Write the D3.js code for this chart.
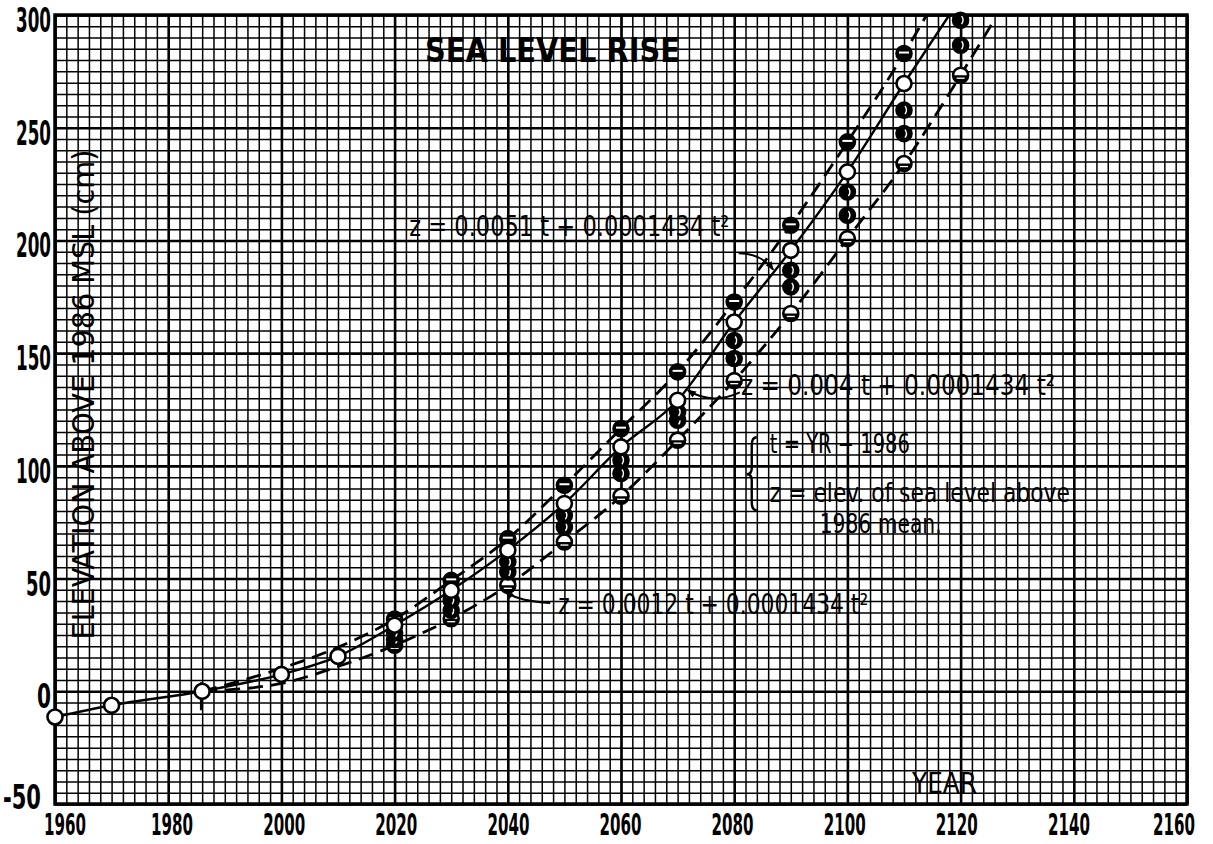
<!DOCTYPE html>
<html>
<head>
<meta charset="utf-8">
<script src="https://cdn.jsdelivr.net/npm/d3@7"></script>
<style>
body { margin: 0; background: #fff; }
svg text { font-family: "DejaVu Sans Condensed", "DejaVu Sans", sans-serif; fill: #000; }
</style>
</head>
<body>
<svg id="chart" width="1213" height="844"></svg>
<script>
// open circles, sitting on the solid curve
var openYears = [1960, 1970, 1986, 2000, 2010, 2020, 2030, 2040, 2050, 2060, 2070, 2080, 2090, 2100, 2110];
var openVals  = [-11.4, -6.2, 0, 7.5, 15.5, 29.3, 44.8, 62.6, 83.3, 108.4, 129.1, 163.8, 195.6, 230.4, 269.6];

// the column of points drawn every 10 years
var clusterYears = [2020, 2030, 2040, 2050, 2060, 2070, 2080, 2090, 2100, 2110, 2120];
var upperVals   = [32, 49.2, 67.7, 91.4, 116.5, 141.7, 172.7, 206.7, 243.7, 282.9, null];
var midHighVals = [26, 40.4, 57.4, 78.1, 102.5, 123.9, 155.6, 186.7, 221.5, 257.8, 297.7];
var midLowVals  = [23, 35.9, 52.9, 72.9, 96.6, 120.2, 147.6, 179.4, 211.2, 247.4, 286.6];
var lowerVals   = [20.4, 32.2, 47.0, 66.2, 86.5, 111.4, 137.8, 167.6, 200.8, 234.1, 273.3];

// hand drawn curves (last point = where they run off the top of the paper)
var solidYears = [1960, 1970, 1986, 2000, 2010, 2020, 2030, 2040, 2050, 2060, 2070, 2080, 2090, 2100, 2110, 2118];
var solidVals  = [-11.4, -6.2, 0, 7.5, 15.5, 29.3, 44.8, 62.6, 83.3, 108.4, 129.1, 163.8, 195.6, 230.4, 269.6, 300];
var upperLineYears = [1986, 2000, 2010, 2020, 2030, 2040, 2050, 2060, 2070, 2080, 2090, 2100, 2110, 2114];
var upperLineVals  = [0, 10.2, 19.5, 32, 49.2, 67.7, 91.4, 116.5, 141.7, 172.7, 206.7, 243.7, 282.9, 300];
var lowerLineYears = [1986, 2000, 2010, 2020, 2030, 2040, 2050, 2060, 2070, 2080, 2090, 2100, 2110, 2120, 2126];
var lowerLineVals  = [0, 3.5, 11, 20.4, 32.2, 47.0, 66.2, 86.5, 111.4, 137.8, 167.6, 200.8, 234.1, 273.3, 298];

var xTicks = [1960, 1980, 2000, 2020, 2040, 2060, 2080, 2100, 2120, 2140, 2160];
var yTicks = [-50, 0, 50, 100, 150, 200, 250, 300];

var svg = d3.select("#chart");
var x = d3.scaleLinear().domain([1960, 2160]).range([55, 1187]);
var y = d3.scaleLinear().domain([-50, 300]).range([804, 15]);
var W = x(2160) - x(1960), H = y(-50) - y(300);

svg.append("rect").attr("width", 1213).attr("height", 844).attr("fill", "#fff");

// graph paper: minor lines every 2 yrs / 5 cm, heavy every 20 yrs / 50 cm
function grid(vals, sw, cls) {
  svg.append("g").attr("class", cls + "x")
    .attr("transform", "translate(0," + y(-50) + ")")
    .call(d3.axisBottom(x).tickValues(vals.x).tickSize(-H).tickFormat(""))
    .call(g => g.select(".domain").remove())
    .selectAll("line").attr("stroke", "#000").attr("stroke-width", sw);
  svg.append("g").attr("class", cls + "y")
    .attr("transform", "translate(" + x(1960) + ",0)")
    .call(d3.axisLeft(y).tickValues(vals.y).tickSize(-W).tickFormat(""))
    .call(g => g.select(".domain").remove())
    .selectAll("line").attr("stroke", "#000").attr("stroke-width", sw);
}
grid({x: d3.range(1960, 2161, 2), y: d3.range(-50, 301, 5)}, 1.5, "minor");
grid({x: xTicks, y: yTicks}, 2.6, "major");

svg.append("rect")
  .attr("x", x(1960)).attr("y", y(300)).attr("width", W).attr("height", H)
  .attr("fill", "none").attr("stroke", "#000").attr("stroke-width", 3.5);

// tick labels (hand lettered, narrow; drift a little left towards the right end)
svg.append("g").selectAll("text").data(xTicks).enter().append("text")
  .attr("text-anchor", "middle")
  .style("font-size", "31px").style("font-weight", "bold")
  .text(d => d)
  .attr("transform", function(d) {
    var cx = d === 2160 ? 1174 : x(d) + (d === 1960 ? 10 : 5 - 11 * (d - 1960) / 200);
    var k = 42 / this.getComputedTextLength();
    return "translate(" + cx + ",835) scale(" + k + ",1)";
  });

svg.append("g").selectAll("text").data(yTicks).enter().append("text")
  .attr("text-anchor", "end")
  .style("font-size", "33px").style("font-weight", "bold")
  .text(d => d)
  .attr("transform", function(d) {
    var w = d === 0 ? 14 : (d === -50 ? 38 : (d === 50 ? 25 : 35));
    var k = w / this.getComputedTextLength();
    var rx = d === -50 ? 41 : 51;
    var by = d === -50 ? 809 : y(d) + 17;
    return "translate(" + rx + "," + by + ") scale(" + k + ",1)";
  });

svg.append("text")
  .attr("transform", "translate(94," + ((y(300) + y(-50)) / 2 - 15) + ") rotate(-90)")
  .attr("text-anchor", "middle")
  .style("font-size", "30px")
  .attr("textLength", 490).attr("lengthAdjust", "spacingAndGlyphs")
  .text("ELEVATION ABOVE 1986 MSL (cm)");

svg.append("text").attr("x", 425).attr("y", 62)
  .style("font-size", "33px").style("font-weight", "bold")
  .attr("textLength", 255).attr("lengthAdjust", "spacingAndGlyphs")
  .text("SEA LEVEL RISE");

svg.append("text").attr("x", 912).attr("y", 793)
  .style("font-size", "28px")
  .attr("textLength", 65).attr("lengthAdjust", "spacingAndGlyphs")
  .text("YEAR");

// curves
svg.append("clipPath").attr("id", "plotClip").append("rect")
  .attr("x", x(1960)).attr("y", y(300)).attr("width", W).attr("height", H);

var line = d3.line().x(d => x(d[0])).y(d => y(d[1])).curve(d3.curveMonotoneX);
var zip = (a, b) => a.map((d, i) => [d, b[i]]);

var curves = svg.append("g").attr("clip-path", "url(#plotClip)");
curves.append("path").datum(zip(solidYears, solidVals))
  .attr("d", line).attr("fill", "none").attr("stroke", "#000").attr("stroke-width", 2.4);
curves.append("path").datum(zip(upperLineYears, upperLineVals))
  .attr("d", line).attr("fill", "none").attr("stroke", "#000").attr("stroke-width", 2.8)
  .attr("stroke-dasharray", "15,8");
curves.append("path").datum(zip(lowerLineYears, lowerLineVals))
  .attr("d", line).attr("fill", "none").attr("stroke", "#000").attr("stroke-width", 2.8)
  .attr("stroke-dasharray", "15,8");

// 1986 reference tick
svg.append("line")
  .attr("x1", x(1985.8)).attr("x2", x(1985.8)).attr("y1", y(4)).attr("y2", y(-8.4))
  .attr("stroke", "#000").attr("stroke-width", 2.2);

// markers
var R = 7.5;
function drawPoints(years, vals, type) {
  var pts = years.map((d, i) => ({yr: d, v: vals[i]})).filter(d => d.v != null);
  var g = svg.append("g").selectAll("g").data(pts).enter().append("g")
    .attr("transform", d => "translate(" + x(d.yr) + "," + y(d.v) + ")");
  if (type === "open") {
    g.append("circle").attr("r", R).attr("fill", "#fff").attr("stroke", "#000").attr("stroke-width", 2.6);
  } else if (type === "full") {
    g.append("circle").attr("r", R).attr("fill", "#000").attr("stroke", "#000").attr("stroke-width", 2.6);
    g.append("path").attr("d", "M1,-4 Q4,0 1,4").attr("fill", "none").attr("stroke", "#fff").attr("stroke-width", 1.4);
  } else if (type === "top") {
    g.append("circle").attr("r", R).attr("fill", "#000").attr("stroke", "#000").attr("stroke-width", 2.6);
    g.append("line").attr("x1", -5).attr("x2", 5).attr("y1", -1).attr("y2", -1).attr("stroke", "#fff").attr("stroke-width", 2);
  } else {
    g.append("circle").attr("r", R).attr("fill", "#fff").attr("stroke", "#000").attr("stroke-width", 2.6);
    g.append("path").attr("d", "M" + (-R) + ",0 A" + R + "," + R + " 0 0 0 " + R + ",0 Z").attr("fill", "#000");
    g.append("line").attr("x1", -4).attr("x2", 4).attr("y1", 3).attr("y2", 3).attr("stroke", "#fff").attr("stroke-width", 1.3);
  }
}
drawPoints(clusterYears, lowerVals, "bottom");
drawPoints(clusterYears, midLowVals, "full");
drawPoints(clusterYears, midHighVals, "full");
drawPoints(clusterYears, upperVals, "top");
drawPoints(openYears, openVals, "open");

// annotations
var defs = svg.append("defs");
defs.append("marker").attr("id", "head").attr("viewBox", "0 0 10 10")
  .attr("refX", 9).attr("refY", 5).attr("markerWidth", 9).attr("markerHeight", 9)
  .attr("orient", "auto").attr("markerUnits", "userSpaceOnUse")
  .append("path").attr("d", "M0,1 L10,5 L0,9 Z").attr("fill", "#000");

function arrow(p0, c, p1) {
  svg.append("path")
    .attr("d", "M" + x(p0[0]) + "," + y(p0[1]) + " Q" + x(c[0]) + "," + y(c[1]) + " " + x(p1[0]) + "," + y(p1[1]))
    .attr("fill", "none").attr("stroke", "#000").attr("stroke-width", 2).attr("marker-end", "url(#head)");
}

function formula(yr, v, str, len) {
  svg.append("text").attr("x", x(yr)).attr("y", y(v))
    .style("font-size", "28px")
    .attr("textLength", len).attr("lengthAdjust", "spacingAndGlyphs")
    .text(str);
}

formula(2022.6, 202, "z = 0.0051 t + 0.0001434 t\u00b2", 320);
arrow([2080.8, 194.3], [2084.8, 194.2], [2086.9, 187.0]);

formula(2081.2, 131.5, "z = 0.004 t + 0.0001434 t\u00b2", 314);
arrow([2081.0, 132.6], [2076.0, 126.8], [2071.8, 133.6]);

formula(2048.9, 34.3, "z = 0.0012 t + 0.0001434 t\u00b2", 310);
arrow([2047.5, 39.2], [2041.3, 40.2], [2039.6, 44.4]);

var bx = x(2083.1), bt = y(112.7), bb = y(80.3), bm = y(96.3);
svg.append("path")
  .attr("d", "M" + (bx + 5) + "," + bt + " Q" + bx + "," + bt + " " + bx + "," + (bt + 8) +
    " L" + bx + "," + (bm - 6) + " Q" + bx + "," + bm + " " + (bx - 5) + "," + bm +
    " Q" + bx + "," + bm + " " + bx + "," + (bm + 6) +
    " L" + bx + "," + (bb - 8) + " Q" + bx + "," + bb + " " + (bx + 5) + "," + bb)
  .attr("fill", "none").attr("stroke", "#000").attr("stroke-width", 2.4);

var notes = [
  {yr: 2086.3, v: 105.7, s: "t = YR \u2212 1986", len: 140},
  {yr: 2086.3, v: 84.0, s: "z = elev. of sea level above", len: 300},
  {yr: 2095.1, v: 70.2, s: "1986 mean.", len: 122}
];
svg.append("g").selectAll("text").data(notes).enter().append("text")
  .attr("x", d => x(d.yr)).attr("y", d => y(d.v))
  .style("font-size", "26px")
  .attr("textLength", d => d.len).attr("lengthAdjust", "spacingAndGlyphs")
  .text(d => d.s);
</script>
</body>
</html>
